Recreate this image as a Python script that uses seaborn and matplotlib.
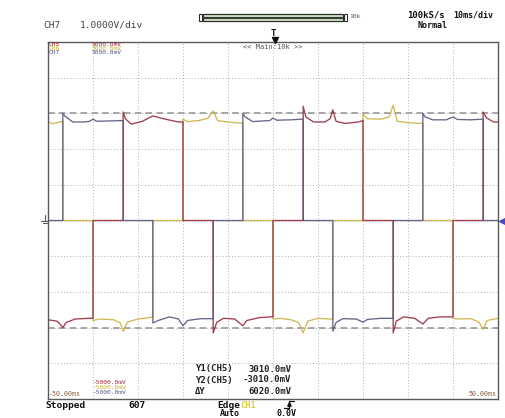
import matplotlib
matplotlib.use("Agg")
import matplotlib.pyplot as plt
from matplotlib.lines import Line2D
from matplotlib.patches import Rectangle
import seaborn as sns
import pandas as pd

# ---------------- data (time in ms, voltage in V) ----------------
yel_t = [-50, -49, -47.5, -46.7, -46.7, -40, -40, -38.5, -35.5, -34, -33.3, -32.3, -30, -27.5, -26.7,
         -26.7, -20, -20, -19, -16.5, -14.5, -13.3, -12.3, -10, -7.5, -6.7, -6.7, 0, 0, 1.5,
         4, 5.7, 6.7, 7.7, 10, 12.5, 13.3, 13.3, 20, 20, 21, 24, 25.8, 26.7, 27.6,
         30, 32.5, 33.3, 33.3, 40, 40, 41.5, 44, 45.8, 46.7, 47.6, 50]
yel_v = [2.76, 2.71, 2.76, 2.78, 0.0, 0.0, -2.80, -2.76, -2.78, -2.86, -3.10, -2.84, -2.76, -2.72, -2.70,
         0.0, 0.0, 2.84, 2.77, 2.80, 2.86, 3.07, 2.80, 2.76, 2.73, 2.73, 0.0, 0.0, -2.76, -2.74,
         -2.78, -2.86, -3.15, -2.82, -2.74, -2.76, -2.76, 0.0, 0.0, 2.98, 2.85, 2.84, 2.90, 3.23, 2.78,
         2.74, 2.72, 2.73, 0.0, 0.0, -2.74, -2.76, -2.75, -2.85, -3.05, -2.80, -2.74]

blu_t = [-50, -46.7, -46.7, -46.2, -44.5, -42, -40.7, -40, -39.2, -36, -33.3, -33.3, -26.7, -26.7, -25.5,
         -23, -21, -20, -19, -16, -13.3, -13.3, -6.7, -6.7, -6.2, -4.5, -2, -0.7, 0, 0.8,
         4, 6.7, 6.7, 13.3, 13.3, 14, 15.5, 18.5, 20, 21, 24, 26.7, 26.7, 33.3, 33.3,
         33.8, 35.5, 38.5, 40, 41, 44, 46.7, 46.7, 50]
blu_v = [0.0, 0.0, 3.00, 2.92, 2.76, 2.76, 2.78, 2.84, 2.78, 2.79, 2.80, 0.0, 0.0, -2.87, -2.80,
         -2.70, -2.76, -2.95, -2.80, -2.75, -2.75, 0.0, 0.0, 3.00, 2.90, 2.77, 2.79, 2.80, 2.87, 2.81,
         2.82, 2.84, 0.0, 0.0, -3.10, -2.86, -2.75, -2.76, -2.85, -2.77, -2.74, -2.74, 0.0, 0.0, 3.00,
         2.90, 2.82, 2.82, 2.90, 2.83, 2.82, 2.84, 0.0, 0.0]

red_t = [-50, -48, -47.2, -46.7, -46, -44, -41, -40, -40, -33.3, -33.3, -32.8, -31.5, -29, -26.7,
         -24, -21, -20, -20, -13.3, -13.3, -12.5, -11, -8.5, -6.7, -5.8, -3, -0.5, 0, 0,
         6.7, 6.7, 7.3, 9, 11.5, 12.7, 13.3, 14, 16, 19, 20, 20, 26.7, 26.7, 27.4,
         29, 31.5, 33.3, 34.5, 37, 40, 40, 46.7, 46.7, 47.4, 49, 50]
red_v = [-2.78, -2.82, -2.92, -3.00, -2.86, -2.76, -2.74, -2.74, 0.0, 0.0, 3.04, 2.85, 2.70, 2.78, 2.93,
         2.84, 2.76, 2.76, 0.0, 0.0, -3.15, -2.85, -2.74, -2.76, -2.95, -2.80, -2.72, -2.70, -2.70, 0.0,
         0.0, 3.20, 2.90, 2.76, 2.76, 2.85, 3.10, 2.78, 2.72, 2.76, 2.80, 0.0, 0.0, -3.15, -2.82,
         -2.70, -2.74, -2.90, -2.74, -2.70, -2.70, 0.0, 0.0, 3.04, 2.88, 2.76, 2.76]

channels = ["CH6", "CH5", "CH7"]
ch_colors = {"CH5": "#98283c", "CH6": "#c9b244", "CH7": "#56557c"}
cursor_y = [3.010, -3.010]
x_ticks = [-50, -40, -30, -20, -10, 0, 10, 20, 30, 40, 50]
y_ticks = [-5, -4, -3, -2, -1, 0, 1, 2, 3, 4, 5]

# ---------------- figure ----------------
sns.set_style("white")
plt.rcParams["font.family"] = ["DejaVu Sans Mono", "DejaVu Sans"]

W, H = 506, 418
fig = plt.figure(figsize=(W / 100, H / 100), dpi=100)
fig.patch.set_facecolor("white")


def fx(x):
    return x / W


def fy(y):
    return 1 - y / H


ax = fig.add_axes([fx(48), fy(399), 450 / W, 357 / H])

df = pd.DataFrame({
    "t": yel_t + red_t + blu_t,
    "v": yel_v + red_v + blu_v,
    "ch": ["CH6"] * len(yel_t) + ["CH5"] * len(red_t) + ["CH7"] * len(blu_t),
})
sns.lineplot(data=df, x="t", y="v", hue="ch", hue_order=channels, palette=ch_colors,
             estimator=None, sort=False, legend=False, linewidth=0.95, alpha=0.9, ax=ax)

for cy in cursor_y:
    ax.axhline(cy, color="#9a9a9a", lw=1.2, ls=(0, (4, 2.5)), zorder=1)

ax.set_xlim(-50, 50)
ax.set_ylim(-5, 5)
ax.set_xticks(x_ticks)
ax.set_yticks(y_ticks)
ax.grid(True, color="#b0b0b0", lw=0.7, ls=(0, (1, 2.2)))
ax.tick_params(length=0, labelbottom=False, labelleft=False)
ax.set_xlabel("")
ax.set_ylabel("")
for sp in ax.spines.values():
    sp.set_color("#5a5a5a")
    sp.set_linewidth(1.0)


def txt(x, y, s, size=6.5, color="#222222", weight="normal", ha="left"):
    fig.text(fx(x), fy(y), s, fontsize=size, color=color, weight=weight, ha=ha, va="center")


# header
txt(43, 25, "CH7", 6.8, "#444444")
txt(80, 25, "1.0000V/div", 6.8, "#444444")
txt(407, 15, "100kS/s", 6.5, "#111111", "bold")
txt(453, 15, "10ms/div", 6.0, "#111111", "bold")
txt(418, 26, "Normal", 6.0, "#111111", "bold")

# zoom bar
fig.add_artist(Rectangle((fx(203), fy(21)), 140 / W, 7 / H, transform=fig.transFigure,
                         facecolor="#d4ebcc", edgecolor="#2c2c2c", lw=0.9))
fig.add_artist(Line2D([fx(204), fx(342)], [fy(17.5), fy(17.5)], transform=fig.transFigure,
                      color="#3a3a3a", lw=1.6))
fig.add_artist(Rectangle((fx(199), fy(21)), 3 / W, 7 / H, transform=fig.transFigure,
                         facecolor="white", edgecolor="#2c2c2c", lw=0.8))
fig.add_artist(Rectangle((fx(344), fy(21)), 3 / W, 7 / H, transform=fig.transFigure,
                         facecolor="white", edgecolor="#2c2c2c", lw=0.8))
txt(349, 17, "10k", 4.5, "#555555")

# trigger marker
txt(273, 34, "T", 6.5, "#111111", "bold", "center")
fig.add_artist(Line2D([fx(275)], [fy(40)], transform=fig.transFigure, marker="v",
                      markersize=4, color="#111111", lw=0))
txt(243, 47, "<< Main:10k >>", 5.0, "#555555")

# channel scale labels
txt(49, 44, "CH5", 4.5, ch_colors["CH5"])
txt(49, 48.5, "CH6", 4.5, ch_colors["CH6"])
txt(49, 53, "CH7", 4.5, ch_colors["CH7"])
txt(92, 44, "5000.0mV", 4.5, ch_colors["CH5"])
txt(92, 48.5, "5000.0mV", 4.5, ch_colors["CH6"])
txt(92, 53, "5000.0mV", 4.5, ch_colors["CH7"])
txt(93, 383, "-5000.0mV", 4.5, ch_colors["CH5"])
txt(93, 387.5, "-5000.0mV", 4.5, ch_colors["CH6"])
txt(93, 392, "-5000.0mV", 4.5, ch_colors["CH7"])
txt(49, 394, "-50.00ms", 4.8, "#8a5a44")
txt(497, 394, "50.00ms", 4.8, "#8a5a44", ha="right")

# ground marker and right level marker
fig.add_artist(Line2D([fx(45), fx(45)], [fy(215), fy(221)], transform=fig.transFigure, color="#555555", lw=0.8))
fig.add_artist(Line2D([fx(41.5), fx(48.5)], [fy(221), fy(221)], transform=fig.transFigure, color="#555555", lw=0.8))
fig.add_artist(Line2D([fx(43), fx(47)], [fy(223), fy(223)], transform=fig.transFigure, color="#555555", lw=0.8))
fig.add_artist(Line2D([fx(502)], [fy(221)], transform=fig.transFigure, marker="<",
                      markersize=4.5, color="#4a4ac8", lw=0))

# cursor readout
txt(195, 369, "Y1(CH5)", 6.5, "#222222", "bold")
txt(195, 380, "Y2(CH5)", 6.5, "#222222", "bold")
txt(195, 391, "\u0394Y", 6.5, "#222222", "bold")
txt(291, 369, "3010.0mV", 6.5, "#222222", "bold", "right")
txt(291, 380, "-3010.0mV", 6.5, "#222222", "bold", "right")
txt(291, 391, "6020.0mV", 6.5, "#222222", "bold", "right")

# status line
txt(45, 406, "Stopped", 6.8, "#111111", "bold")
txt(128, 406, "607", 6.8, "#111111", "bold")
txt(217, 405, "Edge", 6.8, "#111111", "bold")
txt(240, 405, "CH1", 6.3, "#d9d23c", "bold")
fig.add_artist(Line2D([fx(284), fx(289), fx(289), fx(294)], [fy(408), fy(408), fy(401), fy(401)],
                      transform=fig.transFigure, color="#111111", lw=0.9))
fig.add_artist(Line2D([fx(289)], [fy(404)], transform=fig.transFigure, marker="^",
                      markersize=2.5, color="#111111", lw=0))
txt(220, 413.5, "Auto", 6.0, "#111111", "bold")
txt(277, 413.5, "0.0V", 6.0, "#111111", "bold")

fig.savefig("out.png", dpi=100, facecolor="white")
